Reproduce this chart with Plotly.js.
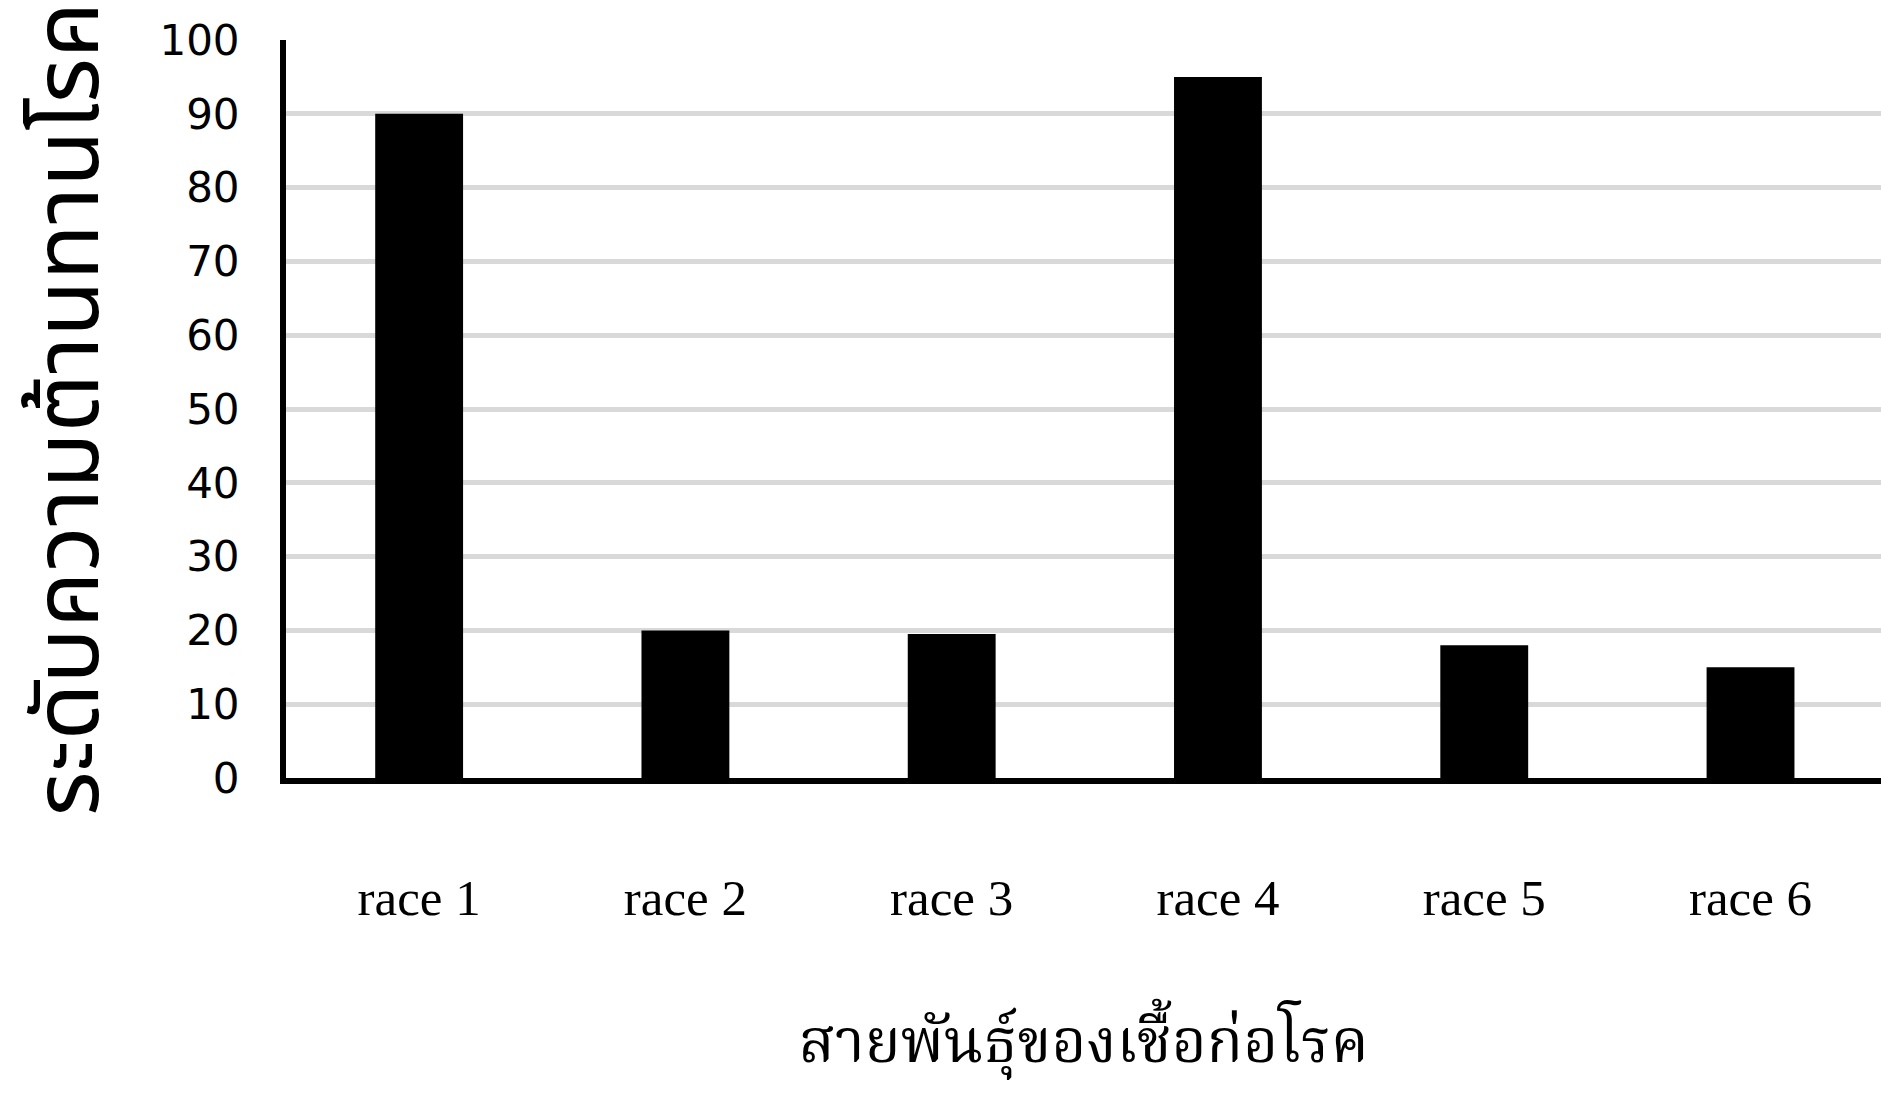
<!DOCTYPE html>
<html>
<head>
<meta charset="utf-8">
<script src="https://cdn.plot.ly/plotly-3.0.1.min.js"></script>
<style>
  html, body { margin: 0; padding: 0; background: #fff; }
  #chart { width: 1881px; height: 1094px; }
</style>
</head>
<body>
<div id="chart"></div>
<script>
const categories = ["race 1", "race 2", "race 3", "race 4", "race 5", "race 6"];
const severity = [90, 20, 19.5, 95, 18, 15];
const yTickValues = [0, 10, 20, 30, 40, 50, 60, 70, 80, 90, 100];
const xTitle = "สายพันธุ์ของเชื้อก่อโรค";
const yTitle = "ระดับความต้านทานโรค";

const thaiSerif = "'Noto Serif Thai', 'Norasi', 'Kinnari', 'Garuda', 'Loma', 'Noto Sans Thai', serif";
const thaiSans = "'Noto Sans Thai', 'Loma', 'Garuda', 'Tahoma', 'DejaVu Sans', sans-serif";

const trace = {
  type: "bar",
  x: categories,
  y: severity,
  marker: { color: "#000000", line: { width: 0 } },
  hoverinfo: "x+y"
};

const layout = {
  width: 1881,
  height: 1094,
  margin: { l: 286, r: 0, t: 40, b: 316 },
  paper_bgcolor: "#ffffff",
  plot_bgcolor: "#ffffff",
  bargap: 0.67,
  showlegend: false,
  xaxis: {
    type: "category",
    range: [-0.5, 5.49],
    showline: true,
    linecolor: "#000000",
    linewidth: 6,
    showgrid: false,
    zeroline: false,
    ticks: "outside",
    ticklen: 70,
    tickcolor: "rgba(0,0,0,0)",
    tickfont: { family: "'Liberation Serif', 'Times New Roman', serif", size: 51, color: "#000000" },
    title: {
      text: xTitle,
      font: { family: thaiSerif, size: 60, color: "#000000" },
      standoff: 102
    },
    automargin: false,
    fixedrange: true
  },
  yaxis: {
    range: [0, 100],
    tickvals: yTickValues,
    ticktext: yTickValues.map(String),
    showline: true,
    linecolor: "#000000",
    linewidth: 6,
    showgrid: true,
    gridcolor: "#d9d9d9",
    gridwidth: 5,
    zeroline: false,
    ticks: "outside",
    ticklen: 32,
    tickcolor: "rgba(0,0,0,0)",
    tickfont: { family: "'DejaVu Sans', sans-serif", size: 42, color: "#000000" },
    title: {
      text: yTitle,
      font: { family: thaiSans, size: 92, color: "#000000" },
      standoff: 54
    },
    automargin: false,
    fixedrange: true
  }
};

Plotly.newPlot("chart", [trace], layout, { displayModeBar: false, staticPlot: true });
</script>
</body>
</html>
